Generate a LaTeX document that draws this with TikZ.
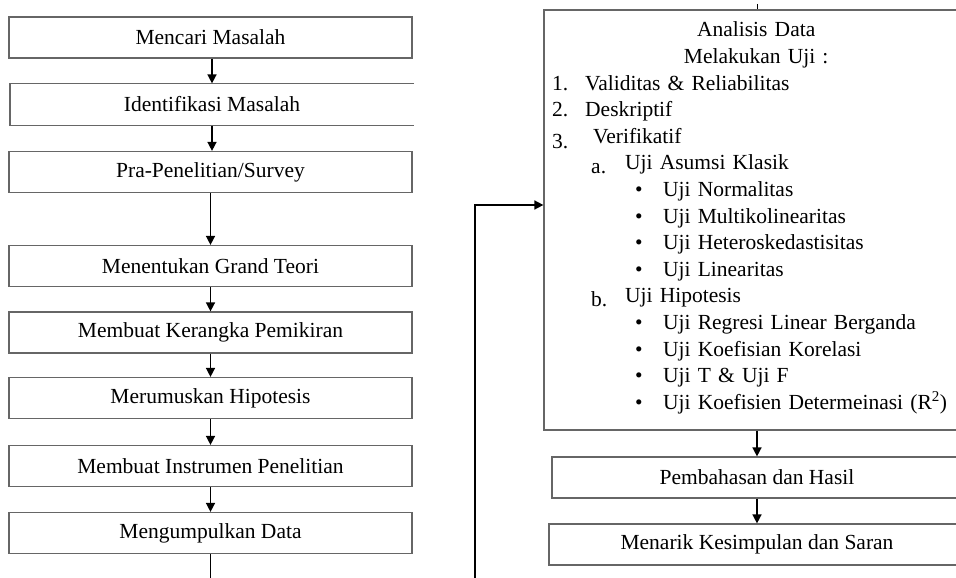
\documentclass[tikz,border=0pt]{standalone}
\usepackage{fontspec}
\setmainfont{Liberation Serif}
\usetikzlibrary{arrows.meta}

\begin{document}
\begin{tikzpicture}[x=1pt, y=-1pt,
    kotak/.style={rectangle, draw=black!60, line width=1.2pt, minimum width=403pt, minimum height=41pt, inner sep=0pt},
    panah/.style={line width=1.5pt, -{Triangle[length=9pt, width=9pt]}},
    garis/.style={line width=1.5pt},
    font=\fontsize{21.5}{26.6}\selectfont]
    \clip (0,0) rectangle (956,578);

    \def\langkah#1#2#3{%
        \node[kotak] (#1) at (210.5, #2) {#3};
    }
    \def\judul#1{\hbox to\hsize{\hss#1\hss}\par}
    \def\nomor#1#2#3{\hbox{\rlap{#1}\hspace{#2pt}#3}\par}
    \def\subpoin#1#2{\hbox{\hspace{39pt}\rlap{\raisebox{-4pt}{#1}}\hspace{34pt}#2}\par}
    \def\poin#1{\hbox{\hspace{83pt}\rlap{\textbullet}\hspace{28pt}#1}\par}

    \langkah{cari}{37.5}{Mencari Masalah}
    \node[kotak, draw=none] (identifikasi) at (212, 104.5) {Identifikasi Masalah};
    \draw[black!60, line width=1.2pt] (identifikasi.north east) -- (identifikasi.north west)
        -- (identifikasi.south west) -- (identifikasi.south east);
    \langkah{survey}{172}{Pra-Penelitian/Survey}
    \langkah{grand}{266}{Menentukan Grand Teori}
    \langkah{kerangka}{332.5}{Membuat Kerangka Pemikiran}
    \langkah{hipotesis}{398}{Merumuskan Hipotesis}
    \langkah{instrumen}{466}{Membuat Instrumen Penelitian}
    \langkah{kumpul}{533}{Mengumpulkan Data}

    \draw[panah] (cari.south -| 212,0) -- (identifikasi.north -| 212,0);
    \draw[panah] (identifikasi.south -| 212,0) -- (survey.north -| 212,0);
    \draw[panah] (survey) -- (grand);
    \draw[panah] (grand) -- (kerangka);
    \draw[panah] (kerangka) -- (hipotesis);
    \draw[panah] (hipotesis) -- (instrumen);
    \draw[panah] (instrumen) -- (kumpul);
    \coordinate (ujung) at (210.5, 582);
    \draw[garis] (kumpul) -- (ujung);

    \node[kotak, minimum width=424pt, minimum height=420pt] (analisis) at (756, 220) {};
    \node[anchor=base west, text width=408pt, inner sep=0pt] (uji) at (552, 37) {%
        \judul{Analisis Data}
        \judul{Melakukan Uji :}
        \nomor{1.}{33}{Validitas \& Reliabilitas}
        \nomor{2.}{33}{Deskriptif}
        \nomor{\raisebox{-5pt}{3.}}{41}{Verifikatif}
        \subpoin{a.}{Uji Asumsi Klasik}
        \poin{Uji Normalitas}
        \poin{Uji Multikolinearitas}
        \poin{Uji Heteroskedastisitas}
        \poin{Uji Linearitas}
        \subpoin{b.}{Uji Hipotesis}
        \poin{Uji Regresi Linear Berganda}
        \poin{Uji Koefisian Korelasi}
        \poin{Uji T \& Uji F}
        \poin{Uji Koefisien Determeinasi (R\textsuperscript{2})}};
    \node[kotak, minimum width=410pt] (bahas) at (757, 477.5) {Pembahasan dan Hasil};
    \node[kotak, minimum width=416pt] (simpulan) at (757, 544.5) {Menarik Kesimpulan dan Saran};

    \coordinate (atas) at (757, 4);
    \draw[line width=1pt] (atas) -- (atas |- analisis.north);
    \draw[panah] (analisis.south -| 757,0) -- (bahas.north -| 757,0);
    \draw[panah] (bahas) -- (simpulan);

    \coordinate (naik) at (475, 582);
    \coordinate (belok) at (475, 205);
    \draw[panah] (naik) -- (belok) -- (belok -| analisis.west);
\end{tikzpicture}
\end{document}
